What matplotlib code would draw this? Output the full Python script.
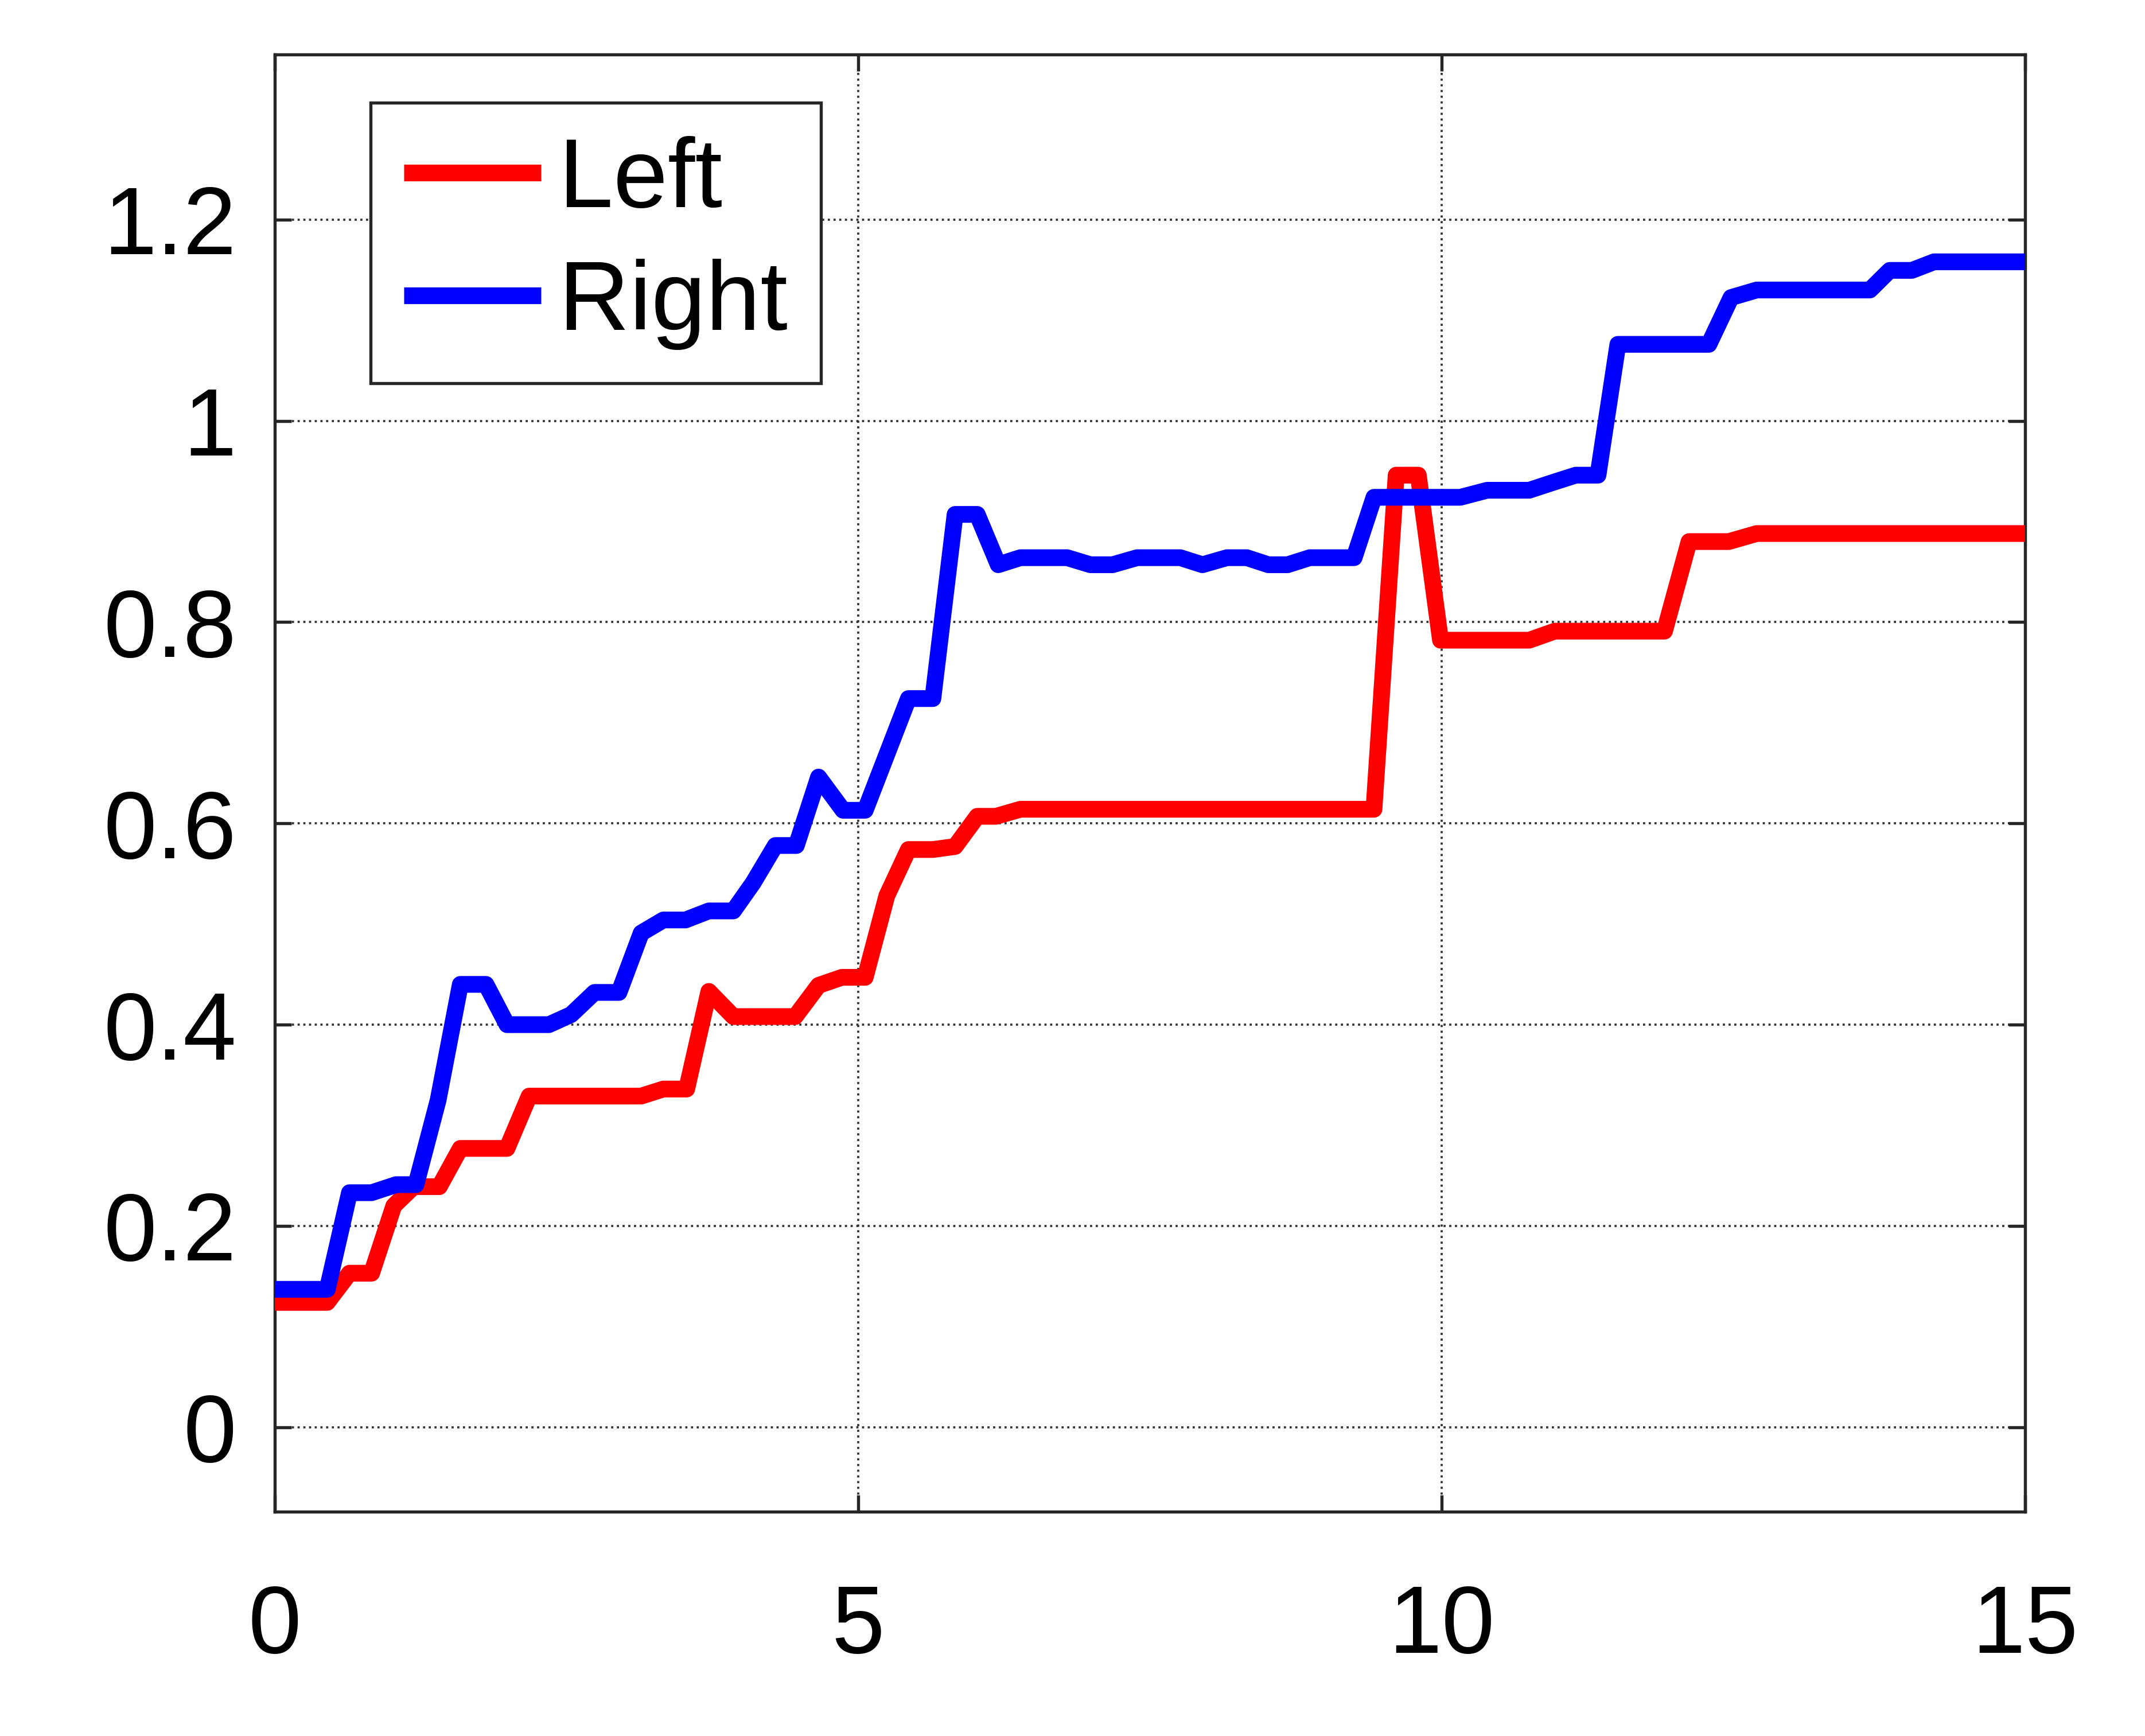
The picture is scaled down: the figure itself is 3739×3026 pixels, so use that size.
import matplotlib
matplotlib.use("Agg")
import matplotlib.pyplot as plt
from matplotlib import font_manager

plt.rcParams['font.family'] = ['Liberation Sans', 'DejaVu Sans']

# Left series (red) vertices
left_x = [0, 0.45, 0.64, 0.83, 1.02, 1.19, 1.41, 1.59, 1.99, 2.18,
          3.14, 3.33, 3.53, 3.72, 3.93, 4.46, 4.66, 4.86, 5.06, 5.245,
          5.43, 5.64, 5.83, 6.02, 6.18, 6.39, 9.42, 9.61, 9.80, 9.99,
          10.75, 10.97, 11.91, 12.12, 12.46, 12.70, 15]
left_y = [0.124, 0.124, 0.153, 0.153, 0.220, 0.239, 0.239, 0.277, 0.277, 0.329,
          0.329, 0.336, 0.336, 0.433, 0.408, 0.408, 0.439, 0.447, 0.447, 0.528,
          0.574, 0.574, 0.577, 0.607, 0.607, 0.614, 0.614, 0.946, 0.946, 0.782,
          0.782, 0.791, 0.791, 0.880, 0.880, 0.888, 0.888]

# Right series (blue) vertices
right_x = [0, 0.45, 0.64, 0.83, 1.04, 1.21, 1.40, 1.59, 1.81, 1.99,
           2.35, 2.54, 2.74, 2.95, 3.14, 3.33, 3.52, 3.72, 3.93, 4.10,
           4.29, 4.47, 4.66, 4.87, 5.06, 5.43, 5.64, 5.83, 6.02, 6.20,
           6.39, 6.79, 6.99, 7.18, 7.39, 7.76, 7.95, 8.16, 8.33, 8.515,
           8.68, 8.87, 9.25, 9.42, 10.16, 10.39, 10.75, 10.96, 11.15, 11.34,
           11.51, 12.29, 12.48, 12.70, 13.67, 13.84, 14.03, 14.22, 15]
right_y = [0.137, 0.137, 0.233, 0.233, 0.241, 0.241, 0.325, 0.440, 0.440, 0.400,
           0.400, 0.410, 0.432, 0.432, 0.491, 0.504, 0.504, 0.513, 0.513, 0.541,
           0.578, 0.578, 0.646, 0.613, 0.613, 0.724, 0.724, 0.907, 0.907, 0.857,
           0.864, 0.864, 0.857, 0.857, 0.864, 0.864, 0.857, 0.864, 0.864, 0.857,
           0.857, 0.864, 0.864, 0.924, 0.924, 0.931, 0.931, 0.939, 0.946, 0.946,
           1.076, 1.076, 1.1225, 1.130, 1.130, 1.1495, 1.1495, 1.158, 1.158]

series_labels = ['Left', 'Right']
x_ticks = [0, 5, 10, 15]
x_tick_labels = ['0', '5', '10', '15']
y_ticks = [0, 0.2, 0.4, 0.6, 0.8, 1.0, 1.2]
y_tick_labels = ['0', '0.2', '0.4', '0.6', '0.8', '1', '1.2']

fig = plt.figure(figsize=(3739 / 300, 3026 / 300), dpi=300)
ax = fig.add_axes([0.1281, 0.1292, 0.9441 - 0.1281, 0.9686 - 0.1292])

lw = 7.0
ax.plot(left_x, left_y, color='#ff0000', lw=lw, label=series_labels[0],
        solid_joinstyle='round', solid_capstyle='butt', zorder=3)
ax.plot(right_x, right_y, color='#0000ff', lw=lw, label=series_labels[1],
        solid_joinstyle='round', solid_capstyle='butt', zorder=3)

ax.set_xlim(0, 15)
ax.set_ylim(-0.084, 1.364)
ax.set_xticks(x_ticks)
ax.set_xticklabels(x_tick_labels)
ax.set_yticks(y_ticks)
ax.set_yticklabels(y_tick_labels)

ax.grid(True, linestyle=':', color='#333333', linewidth=0.9)
ax.set_axisbelow(True)

for sp in ax.spines.values():
    sp.set_linewidth(1.3)
    sp.set_color('#262626')

ax.tick_params(axis='both', which='major', direction='in', length=7, width=1.3,
               color='#262626', labelsize=40, top=True, right=True)
ax.tick_params(axis='x', pad=30)
ax.tick_params(axis='y', pad=16)

leg = ax.legend(loc='upper left', bbox_to_anchor=(0.0547, 0.967), fontsize=41,
                handlelength=1.4, handletextpad=0.18, borderpad=0.34,
                labelspacing=0.32, borderaxespad=0, fancybox=False,
                framealpha=1, edgecolor='#262626')
leg.get_frame().set_linewidth(1.3)
for line in leg.get_lines():
    line.set_linewidth(lw)

fig.savefig('out.png', dpi=300, facecolor='white')
